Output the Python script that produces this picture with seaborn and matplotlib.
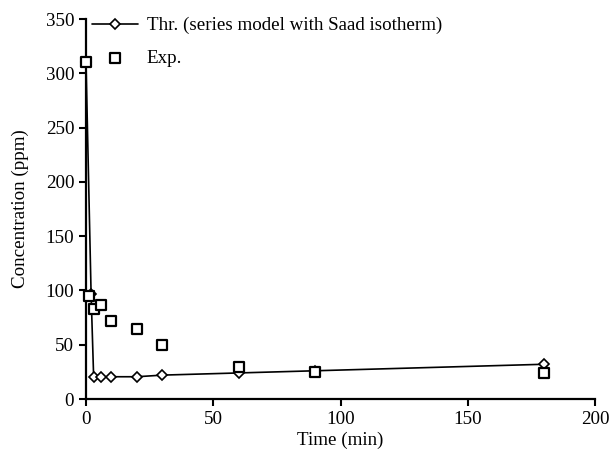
import matplotlib
matplotlib.use("Agg")
import matplotlib.pyplot as plt
import seaborn as sns
import pandas as pd

# Data
thr_time = [0, 2, 3, 6, 10, 20, 30, 60, 90, 180]
thr_conc = [310, 97, 20.5, 20.5, 20.5, 20.5, 22, 24, 26, 32]
exp_time = [0, 1, 3, 6, 10, 20, 30, 60, 90, 180]
exp_conc = [310, 95, 82.5, 87, 72, 64.5, 50, 29.5, 25, 24]
thr_label = "Thr. (series model with Saad isotherm)"
exp_label = "Exp."
x_ticks = [0, 50, 100, 150, 200]
y_ticks = [0, 50, 100, 150, 200, 250, 300, 350]

sns.set_style("ticks")
plt.rcParams['font.family'] = ['Liberation Serif', 'DejaVu Serif']
plt.rcParams['text.color'] = 'black'
plt.rcParams['axes.labelcolor'] = 'black'

FS = 13.7

fig = plt.figure(figsize=(6.12, 4.55), dpi=100)
ax = fig.add_axes([86/612, 1 - 399/455, (595 - 86)/612, (399 - 19)/455])

thr = pd.DataFrame({"t": thr_time, "c": thr_conc})
exp = pd.DataFrame({"t": exp_time, "c": exp_conc})

sns.lineplot(data=thr, x="t", y="c", ax=ax, color="black", lw=1.2,
             marker="D", markersize=5.5, markerfacecolor="white",
             markeredgecolor="black", markeredgewidth=1.2, label=thr_label,
             zorder=2, clip_on=False)
sns.scatterplot(data=exp, x="t", y="c", ax=ax, marker="s", s=60,
                facecolor="white", edgecolor="black", linewidth=1.6,
                label=exp_label, zorder=3, clip_on=False)

ax.set_xlim(0, 200)
ax.set_ylim(0, 350)
ax.set_xticks(x_ticks)
ax.set_yticks(y_ticks)
ax.tick_params(axis="both", direction="out", length=5, width=1.5,
               labelsize=FS, colors="black")
for s in ["top", "right"]:
    ax.spines[s].set_visible(False)
for s in ["left", "bottom"]:
    ax.spines[s].set_linewidth(1.6)
    ax.spines[s].set_color("black")

ax.set_xlabel("Time (min)", fontsize=FS, labelpad=3)
ax.set_ylabel("Concentration (ppm)", fontsize=FS, labelpad=12)

leg = ax.legend(loc="upper left", bbox_to_anchor=(-0.01, 1.035), frameon=False,
                fontsize=FS, labelspacing=0.78, handlelength=2.4,
                handletextpad=0.47, borderaxespad=0.2)

fig.savefig("out.png", dpi=100)
